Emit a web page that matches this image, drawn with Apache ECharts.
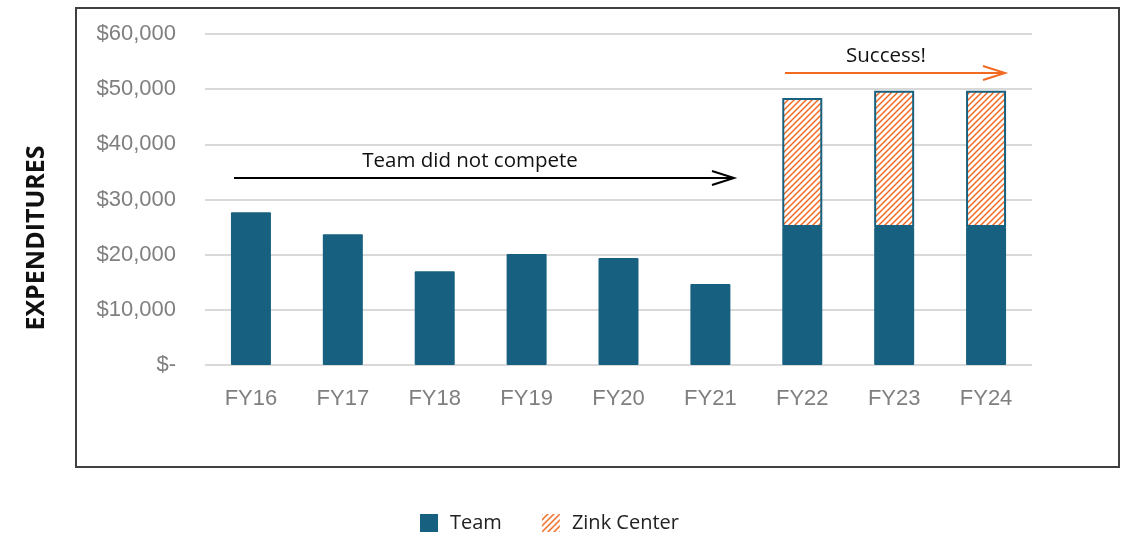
<!DOCTYPE html>
<html>
<head>
<meta charset="utf-8">
<script src="https://cdn.jsdelivr.net/npm/echarts@6/dist/echarts.min.js"></script>
<style>
  html, body { margin: 0; padding: 0; background: #fff; }
  #chart { width: 1126px; height: 541px; }
</style>
</head>
<body>
<div id="chart"></div>
<script>
// data
var years = ['FY16', 'FY17', 'FY18', 'FY19', 'FY20', 'FY21', 'FY22', 'FY23', 'FY24'];
var teamSpend = [27700, 23700, 17000, 20100, 19400, 14700, 25000, 25000, 25000];
var zinkSpend = [null, null, null, null, null, null, 23400, 24700, 24700];
var yTicks = [0, 10000, 20000, 30000, 40000, 50000, 60000];

var teamBlue = '#17607f';
var orange = '#f26a21';

// diagonal hatch for the Zink Center part
function hatch() {
  var c = document.createElement('canvas');
  c.width = 6; c.height = 6;
  var g = c.getContext('2d');
  g.fillStyle = '#ffffff';
  g.fillRect(0, 0, 6, 6);
  g.strokeStyle = orange;
  g.lineWidth = 1.5;
  g.beginPath();
  g.moveTo(0, 6); g.lineTo(6, 0);
  g.moveTo(-1, 1); g.lineTo(1, -1);
  g.moveTo(5, 7); g.lineTo(7, 5);
  g.stroke();
  return { image: c, repeat: 'repeat' };
}

function money(v) {
  if (v === 0) return '$-';
  return '$' + v.toLocaleString('en-US');
}

var chart = echarts.init(document.getElementById('chart'));
var labelFont = 'Liberation Sans, Arial, sans-serif';
var noteFont = 'Open Sans, Noto Sans, sans-serif';

chart.setOption({
  animation: false,
  grid: { left: 205, right: 94, top: 34, bottom: 176 },
  xAxis: {
    type: 'category',
    data: years,
    axisLine: { show: false },
    axisTick: { show: false },
    axisLabel: { color: '#7f7f7f', fontSize: 22, fontFamily: labelFont, margin: 23 }
  },
  yAxis: {
    type: 'value',
    min: yTicks[0],
    max: yTicks[yTicks.length - 1],
    interval: 10000,
    axisLine: { show: false },
    axisTick: { show: false },
    splitLine: { lineStyle: { color: '#d9d9d9', width: 2 } },
    axisLabel: { color: '#7f7f7f', fontSize: 22, fontFamily: labelFont, margin: 29, formatter: money }
  },
  legend: {
    left: 415,
    top: 508,
    itemWidth: 18,
    itemHeight: 18,
    itemGap: 40,
    icon: 'rect',
    textStyle: { fontSize: 20, color: '#222', fontFamily: noteFont, padding: [0, 0, 0, 7] },
    data: [
      { name: 'Team' },
      { name: 'Zink Center', itemStyle: { borderWidth: 0 } }
    ]
  },
  series: [
    {
      name: 'Team',
      type: 'bar',
      stack: 'total',
      barWidth: 40,
      data: teamSpend,
      itemStyle: { color: teamBlue, borderRadius: 1 }
    },
    {
      name: 'Zink Center',
      type: 'bar',
      stack: 'total',
      barWidth: 40,
      data: zinkSpend,
      itemStyle: { color: hatch(), borderColor: teamBlue, borderWidth: 2 }
    }
  ],
  graphic: [
    {
      type: 'rect', silent: true, z: -1,
      shape: { x: 76, y: 8, width: 1043, height: 459 },
      style: { fill: 'none', stroke: '#404040', lineWidth: 2 }
    },
    {
      type: 'text', x: 37, y: 238, rotation: Math.PI / 2,
      style: { text: 'EXPENDITURES', fontSize: 25, fontWeight: 'bold', fill: '#111',
        fontFamily: noteFont, align: 'center', verticalAlign: 'middle' }
    },
    // "did not compete" arrow
    {
      type: 'line', shape: { x1: 234, y1: 178, x2: 733, y2: 178 },
      style: { stroke: '#000', lineWidth: 2 }
    },
    {
      type: 'polyline', shape: { points: [[712, 171], [734, 178], [712, 185]] },
      style: { stroke: '#000', lineWidth: 2, fill: 'none' }
    },
    {
      type: 'text', x: 470, y: 161,
      style: { text: 'Team did not compete', fontSize: 20.5, fill: '#111', fontFamily: noteFont,
        align: 'center', verticalAlign: 'middle' }
    },
    // "Success!" arrow
    {
      type: 'line', shape: { x1: 785, y1: 73, x2: 1004, y2: 73 },
      style: { stroke: orange, lineWidth: 2 }
    },
    {
      type: 'polyline', shape: { points: [[983, 66], [1005, 73], [983, 80]] },
      style: { stroke: orange, lineWidth: 2, fill: 'none' }
    },
    {
      type: 'text', x: 886, y: 56,
      style: { text: 'Success!', fontSize: 20.5, fill: '#111', fontFamily: noteFont,
        align: 'center', verticalAlign: 'middle' }
    }
  ]
});
</script>
</body>
</html>
